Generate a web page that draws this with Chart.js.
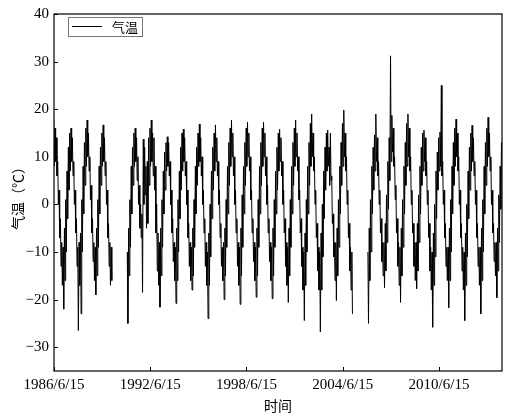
<!DOCTYPE html>
<html>
<head>
<meta charset="utf-8">
<script src="https://cdn.jsdelivr.net/npm/chart.js@4"></script>
<style>
  html, body { margin: 0; padding: 0; background: #fff; }
  #wrap { width: 514px; height: 417px; }
</style>
</head>
<body>
<div id="wrap"><canvas id="tempChart"></canvas></div>
<script>
const seriesName = '气温';
const xTitle = '时间';
const yTitle = '气温（℃）';
const xTickLabels = ['1986/6/15', '1992/6/15', '1998/6/15', '2004/6/15', '2010/6/15'];
const yTicks = [-30, -20, -10, 0, 10, 20, 30, 40];

// monthly upper / lower values of the daily trace, each segment starts at [year, month]
const seg1Start = [1986, 6];
const seg1Hi = [
  18, 16, 14, 9, 3, -3, -8,                       // 1986 Jun-Dec
  -9, -5, 1, 7, 12, 15, 16, 14, 9, 3, -3, -9,     // 1987
  -8, -6, 1, 8, 13, 16, 17.7, 15, 10, 4, -3, -8,  // 1988
  -9, -5, 1, 8, 12, 15, 16.7, 14, 9, 3, -4, -8,   // 1989
  -9                                              // 1990 Jan
];
const seg1Lo = [
  8, 9, 6, 0, -7, -13, -17,
  -22, -16, -10, -3, 3, 7, 9, 6, 0, -6, -13, -26.5,
  -17, -23, -10, -2, 4, 8, 10, 7, 1, -6, -12, -16,
  -19, -15, -9, -2, 4, 8, 9, 6, 0, -7, -13, -17,
  -16
];

const seg2Start = [1991, 1];
const seg2Hi = [
  -10, -5, 1, 8, 12, 15, 16, 14, 10, 4, 0, -2,      // 1991
  13.7, 12, 8, 9, 14, 16, 17.7, 15, 14, 8, 0, -6,   // 1992
  -8, -5, 1, 7, 11, 13, 14.2, 13, 9, 3, -3, -8,     // 1993
  -9, -5, 1, 7, 12, 15, 15.8, 14, 9, 3, -4, -8,     // 1994
  -9, -5, 1, 8, 12, 15, 16.9, 14, 10, 3, -3, -8,    // 1995
  -10, -6, 0, 7, 12, 15, 16.7, 14, 9, 3, -4, -9,    // 1996
  -8, -5, 1, 8, 13, 16, 17.7, 15, 10, 3, -3, -8,    // 1997
  -9, -5, 2, 8, 13, 16, 17.3, 15, 10, 3, -3, -8,    // 1998
  -9, -5, 1, 8, 13, 16, 17.3, 15, 10, 4, -3, -8,    // 1999
  -9, -5, 1, 7, 12, 15, 15.8, 14, 9, 3, -3, -8,     // 2000
  -9, -5, 1, 8, 13, 16, 17.7, 15, 10, 3, -3, -9,    // 2001
  -10, -6, 1, 8, 13, 17, 19, 15, 10, 3, -4, -9,     // 2002
  -10, -6, 0, 7, 12, 15, 15.6, 12, 15, 6, -2, -8,   // 2003
  -8, -5, 1, 8, 13, 17, 19.8, 15, 10, 3, -4, -9,    // 2004
  -10                                               // 2005 Jan
];
const seg2Lo = [
  -25, -15, -9, -2, 4, 8, 9, 5, 0, -5, -7, -18.5,
  0, 2, -5, -4, 4, 8, 9, 6, 3, -6, -14, -17,
  -21.6, -15, -9, -2, 3, 7, 8, 6, 0, -6, -12, -16,
  -20.8, -16, -10, -3, 3, 7, 9, 6, 0, -7, -13, -16,
  -18, -15, -9, -2, 4, 8, 9, 6, 0, -6, -13, -17,
  -24, -17, -11, -3, 3, 7, 9, 6, 0, -7, -13, -16,
  -20, -15, -9, -2, 4, 8, 10, 6, 0, -6, -13, -17,
  -21, -15, -9, -2, 4, 8, 10, 7, 1, -6, -12, -16,
  -19.5, -15, -9, -2, 4, 8, 10, 6, 0, -6, -12, -16,
  -19.8, -15, -9, -2, 3, 7, 9, 6, 0, -6, -13, -17,
  -20.6, -15, -9, -2, 4, 8, 10, 7, 1, -6, -13, -18,
  -24.4, -17, -10, -2, 4, 8, 10, 7, 0, -7, -14, -18,
  -26.8, -18, -11, -3, 3, 7, 8, 4, 5, -4, -11, -16,
  -20.2, -15, -9, -2, 4, 8, 10, 7, 0, -7, -14, -18,
  -23
];

const seg3Start = [2006, 1];
const seg3Hi = [
  -10, -5, 1, 8, 12, 14.6, 19, 14, 9, 3, -3, -8,    // 2006
  -8, -4, 2, 9, 14, 31.2, 18.7, 16, 10, 4, -3, -8,  // 2007
  -9, -5, 1, 8, 13, 17, 19, 16, 10, 3, -4, -8,      // 2008
  -8, -4, 2, 8, 12, 15, 15.6, 14, 9, 3, -4, -9,     // 2009
  -10, -6, 0, 7, 11, 14, 15.2, 25, 9, 3, -4, -9,    // 2010
  -9, -5, 1, 8, 13, 16, 17.9, 15, 10, 3, -4, -9,    // 2011
  -10, -6, 0, 7, 12, 15, 16.6, 14, 9, 3, -4, -9,    // 2012
  -9, -5, 1, 8, 13, 16, 18.3, 15, 10, 3, -4, -8,    // 2013
  -8, -5, 2, 8, 13                                  // 2014 Jan-May
];
const seg3Lo = [
  -25, -16, -10, -2, 3, 7, 9, 6, 0, -6, -12, -15,
  -17.5, -14, -8, -1, 5, 9, 11, 8, 1, -6, -13, -17,
  -20.6, -15, -9, -2, 4, 8, 10, 7, 0, -6, -13, -16,
  -17.7, -14, -8, -2, 4, 7, 9, 6, 0, -7, -14, -18,
  -25.8, -17, -11, -3, 3, 7, 8, 6, 0, -7, -13, -16,
  -21.7, -16, -10, -2, 4, 8, 10, 7, 0, -7, -14, -18,
  -24.4, -17, -11, -3, 3, 7, 9, 6, 0, -7, -13, -17,
  -23, -16, -10, -2, 4, 8, 10, 7, 0, -6, -12, -15,
  -19.6, -14, -8, -1, 12
];

function parseDate(s) {
  const p = s.split('/').map(Number);
  return Date.UTC(p[0], p[1] - 1, p[2]);
}

function buildSegment(start, hi, lo) {
  const pts = [];
  let y = start[0], m = start[1] - 1;
  for (let i = 0; i < hi.length; i++) {
    pts.push({ x: Date.UTC(y, m, 8), y: hi[i] });
    pts.push({ x: Date.UTC(y, m, 22), y: lo[i] });
    m++;
    if (m > 11) { m = 0; y++; }
  }
  return pts;
}

const seg1 = buildSegment(seg1Start, seg1Hi, seg1Lo);
const seg2 = buildSegment(seg2Start, seg2Hi, seg2Lo);
const seg3 = buildSegment(seg3Start, seg3Hi, seg3Lo);
const points = seg1
  .concat([{ x: Date.UTC(1990, 6, 1), y: null }])
  .concat(seg2)
  .concat([{ x: Date.UTC(2005, 6, 1), y: null }])
  .concat(seg3);

const serif = '"Liberation Serif", "Times New Roman", serif';
const cjk = '"Noto Sans CJK SC", sans-serif';

const framePlugin = {
  id: 'frame',
  afterDraw(chart) {
    const { ctx, chartArea: a, scales: { x, y } } = chart;
    ctx.save();
    ctx.strokeStyle = '#000';
    ctx.lineWidth = 1.2;
    ctx.strokeRect(a.left, a.top, a.right - a.left, a.bottom - a.top);

    // ticks point inwards
    ctx.beginPath();
    x.ticks.forEach(t => {
      const px = Math.round(x.getPixelForValue(t.value)) + 0.5;
      ctx.moveTo(px, a.bottom);
      ctx.lineTo(px, a.bottom - 4);
    });
    y.ticks.forEach(t => {
      const py = Math.round(y.getPixelForValue(t.value)) + 0.5;
      ctx.moveTo(a.left, py);
      ctx.lineTo(a.left + 4, py);
    });
    ctx.lineWidth = 1;
    ctx.stroke();

    // legend box
    ctx.strokeStyle = '#777';
    ctx.strokeRect(68.5, 17.5, 74, 19);
    ctx.strokeStyle = '#000';
    ctx.beginPath();
    ctx.moveTo(72, 26.5);
    ctx.lineTo(102, 26.5);
    ctx.stroke();
    ctx.fillStyle = '#000';
    ctx.font = '13px ' + cjk;
    ctx.textAlign = 'left';
    ctx.textBaseline = 'middle';
    ctx.fillText(seriesName, 112, 27);

    // axis titles
    ctx.font = '14px ' + cjk;
    ctx.textAlign = 'center';
    ctx.fillText(xTitle, 278, 406);
    ctx.translate(18, 195);
    ctx.rotate(-Math.PI / 2);
    ctx.fillText(yTitle, 0, 0);
    ctx.restore();
  }
};

new Chart(document.getElementById('tempChart'), {
  type: 'line',
  data: {
    datasets: [{
      label: seriesName,
      data: points,
      borderColor: '#000',
      borderWidth: 1,
      pointRadius: 0,
      tension: 0,
      spanGaps: false
    }]
  },
  options: {
    responsive: true,
    maintainAspectRatio: false,
    animation: false,
    layout: { padding: { top: 11, right: 12, left: 0, bottom: 0 } },
    plugins: { legend: { display: false }, tooltip: { enabled: false } },
    scales: {
      x: {
        type: 'linear',
        min: parseDate('1986/6/15'),
        max: Date.UTC(2014, 4, 20),
        afterBuildTicks: s => { s.ticks = xTickLabels.map(l => ({ value: parseDate(l) })); },
        afterFit: s => { s.height = 46; },
        ticks: {
          autoSkip: false,
          maxRotation: 0,
          padding: 5,
          color: '#000',
          font: { family: serif, size: 15 },
          callback: v => xTickLabels.find(l => parseDate(l) === v) || ''
        },
        grid: { display: false, drawTicks: false },
        border: { display: false }
      },
      y: {
        min: -35,
        max: 40,
        afterBuildTicks: s => { s.ticks = yTicks.map(v => ({ value: v })); },
        afterFit: s => { s.width = 54; },
        ticks: {
          padding: 5,
          color: '#000',
          font: { family: serif, size: 15 },
          callback: v => String(v).replace('-', '\u2212')
        },
        grid: { display: false, drawTicks: false },
        border: { display: false }
      }
    }
  },
  plugins: [framePlugin]
});
</script>
</body>
</html>
